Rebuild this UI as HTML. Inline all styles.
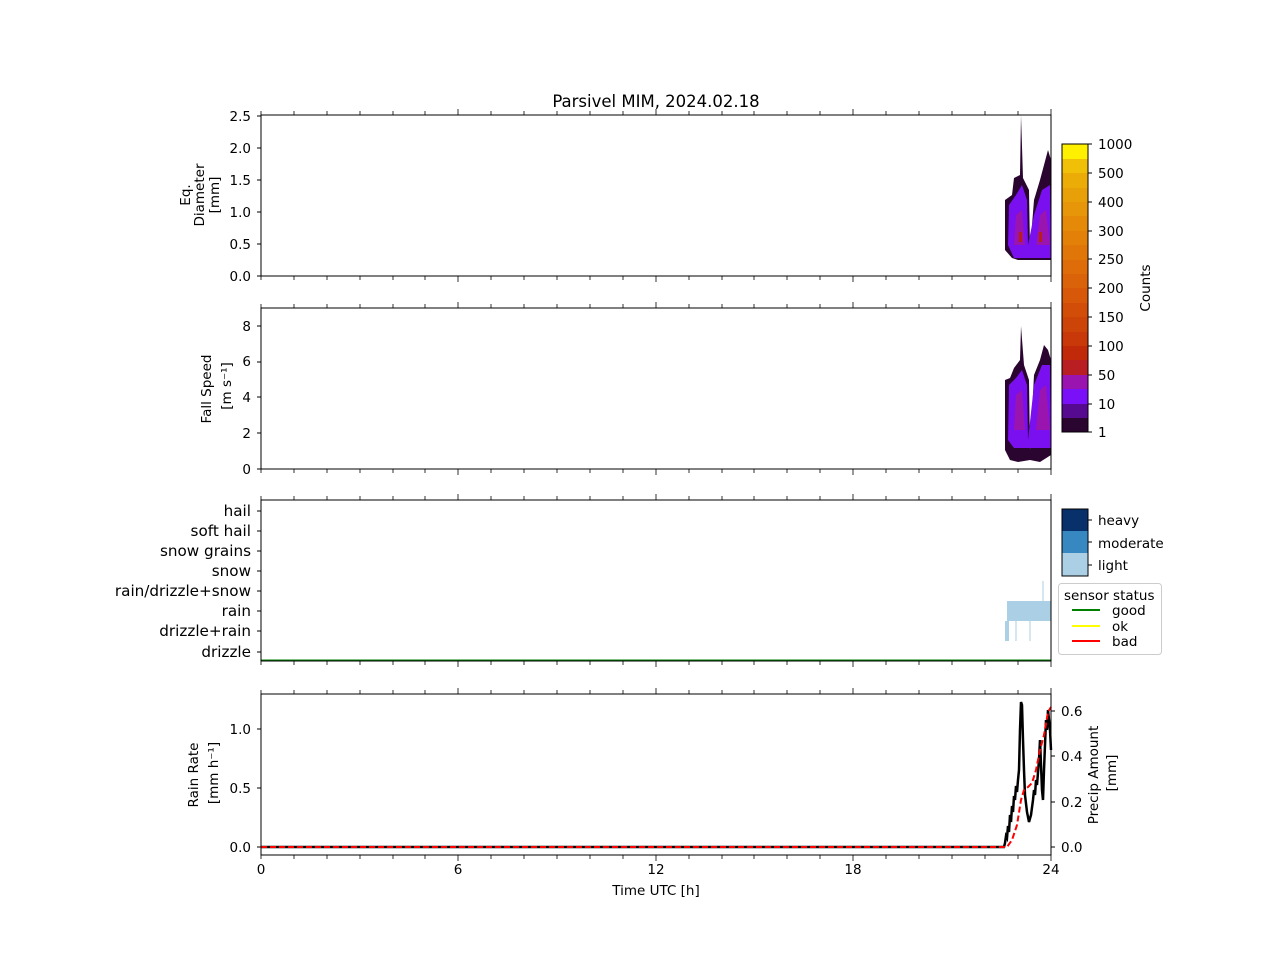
<!DOCTYPE html>
<html><head><style>body{margin:0;background:#fff}svg{display:block;font-family:"DejaVu Sans","Liberation Sans",sans-serif}</style></head><body>
<svg width="1280" height="960" viewBox="0 0 1280 960" xmlns="http://www.w3.org/2000/svg">
<defs>
<g id="xt">
<path d="M261,0v4M294,0v4M327,0v4M360,0v4M393,0v4M425,0v4M458,0v6M491,0v4M524,0v4M557,0v4M590,0v4M623,0v4M656,0v6M689,0v4M722,0v4M754,0v4M787,0v4M820,0v4M853,0v6M886,0v4M919,0v4M952,0v4M985,0v4M1018,0v4M1051,0v6" stroke="#000" stroke-width="0.8"/>
</g>
</defs>
<text x="656" y="107" font-size="16.5" text-anchor="middle">Parsivel MIM, 2024.02.18</text>
<g font-size="13.5">
<!-- panel 1 -->
<path d="M1005,250 L1005,200 L1012,195 L1014,178 L1020,175 L1021,115 L1023,178 L1029,190 L1030,250 L1034,200 L1040,180 L1044,165 L1048,150 L1051,160 L1051,260 L1040,260 L1030,260 L1018,260 L1012,258 Z" fill="#2a0530"/>
<path d="M1008,245 L1009,205 L1016,195 L1022,185 L1027,200 L1028,245 L1034,215 L1042,190 L1050,185 L1051,258 L1014,258 Z" fill="#7a10f0"/>
<path d="M1014,245 L1016,215 L1022,210 L1025,245 Z M1036,245 L1040,215 L1046,210 L1050,245 Z" fill="#9a14b0"/>
<rect x="1019" y="232" width="3" height="10" fill="#b81e18"/><rect x="1039" y="232" width="3" height="10" fill="#b81e18"/>
<rect x="261" y="115" width="790" height="161" fill="none" stroke="#000"/>
<use href="#xt" transform="translate(0,276)"/><use href="#xt" transform="translate(0,115) scale(1,-1)"/>
<g text-anchor="end"><text x="251" y="121">2.5</text><text x="251" y="153">2.0</text><text x="251" y="185">1.5</text><text x="251" y="217">1.0</text><text x="251" y="249">0.5</text><text x="251" y="281">0.0</text></g>
<path d="M257,116h4M257,148h4M257,180h4M257,212h4M257,244h4M257,276h4" stroke="#000"/>
<text transform="translate(190,195) rotate(-90)" text-anchor="middle">Eq.</text>
<text transform="translate(204,195) rotate(-90)" text-anchor="middle">Diameter</text>
<text transform="translate(219,195) rotate(-90)" text-anchor="middle">[mm]</text>
<!-- panel 2 -->
<path d="M1005,450 L1005,380 L1010,378 L1014,368 L1020,360 L1021,326 L1024,365 L1029,380 L1030,450 L1034,375 L1040,360 L1044,345 L1048,350 L1051,360 L1051,455 L1040,462 L1030,460 L1018,462 L1010,460 Z" fill="#2a0530"/>
<path d="M1008,440 L1009,385 L1016,378 L1022,370 L1027,385 L1028,440 L1034,385 L1042,365 L1050,365 L1051,448 L1014,448 Z" fill="#7a10f0"/>
<path d="M1014,430 L1016,395 L1022,390 L1025,430 Z M1036,430 L1040,390 L1046,385 L1050,430 Z" fill="#9a14b0"/>
<rect x="261" y="308" width="790" height="161" fill="none" stroke="#000"/>
<use href="#xt" transform="translate(0,469)"/><use href="#xt" transform="translate(0,308) scale(1,-1)"/>
<g text-anchor="end"><text x="251" y="331">8</text><text x="251" y="366">6</text><text x="251" y="402">4</text><text x="251" y="438">2</text><text x="251" y="474">0</text></g>
<path d="M257,326h4M257,362h4M257,397h4M257,433h4M257,469h4" stroke="#000"/>
<text transform="translate(211,389) rotate(-90)" text-anchor="middle">Fall Speed</text>
<text transform="translate(231,386) rotate(-90)" text-anchor="middle">[m s⁻¹]</text>
<!-- colorbar (stepped) -->
<g>
<rect x="1062" y="418" width="26" height="14" fill="#2a0530"/>
<rect x="1062" y="404" width="26" height="14" fill="#550a90"/>
<rect x="1062" y="389" width="26" height="15" fill="#7a10f8"/>
<rect x="1062" y="375" width="26" height="14" fill="#9a14b0"/>
<rect x="1062" y="360" width="26" height="15" fill="#b81e22"/>
<rect x="1062" y="346" width="26" height="14" fill="#c02a08"/>
<rect x="1062" y="332" width="26" height="14" fill="#c83808"/>
<rect x="1062" y="317" width="26" height="15" fill="#cc4408"/>
<rect x="1062" y="303" width="26" height="14" fill="#d24e08"/>
<rect x="1062" y="288" width="26" height="15" fill="#d65808"/>
<rect x="1062" y="274" width="26" height="14" fill="#da6208"/>
<rect x="1062" y="260" width="26" height="14" fill="#de6c08"/>
<rect x="1062" y="245" width="26" height="15" fill="#e07608"/>
<rect x="1062" y="231" width="26" height="14" fill="#e28008"/>
<rect x="1062" y="216" width="26" height="15" fill="#e48a08"/>
<rect x="1062" y="202" width="26" height="14" fill="#e69608"/>
<rect x="1062" y="188" width="26" height="14" fill="#e8a008"/>
<rect x="1062" y="173" width="26" height="15" fill="#ecac08"/>
<rect x="1062" y="159" width="26" height="14" fill="#f0c008"/>
<rect x="1062" y="144" width="26" height="15" fill="#fff000"/>
</g>
<rect x="1062" y="144" width="26" height="288" fill="none" stroke="#000"/>
<g><text x="1098" y="149">1000</text><text x="1098" y="178">500</text><text x="1098" y="207">400</text><text x="1098" y="236">300</text><text x="1098" y="264">250</text><text x="1098" y="293">200</text><text x="1098" y="322">150</text><text x="1098" y="351">100</text><text x="1098" y="380">50</text><text x="1098" y="409">10</text><text x="1098" y="437">1</text></g>
<path d="M1088,144h4M1088,173h4M1088,202h4M1088,231h4M1088,259h4M1088,288h4M1088,317h4M1088,346h4M1088,375h4M1088,404h4M1088,432h4" stroke="#000"/>
<text transform="translate(1150,288) rotate(-90)" text-anchor="middle">Counts</text>
<!-- panel 3 -->
<rect x="1007" y="601" width="44" height="20" fill="#abd0e6"/>
<rect x="1005" y="621" width="4" height="20" fill="#abd0e6"/>
<path d="M1016,621v20M1030,621v20M1043,581v20" stroke="#abd0e6"/>
<path d="M261,660.5H1051" stroke="#008000" stroke-width="2"/>
<rect x="261" y="500" width="790" height="161" fill="none" stroke="#000"/>
<use href="#xt" transform="translate(0,661)"/><use href="#xt" transform="translate(0,500) scale(1,-1)"/>
<g text-anchor="end" font-size="15.2"><text x="251" y="516">hail</text><text x="251" y="536">soft hail</text><text x="251" y="556">snow grains</text><text x="251" y="576">snow</text><text x="251" y="596">rain/drizzle+snow</text><text x="251" y="616">rain</text><text x="251" y="636">drizzle+rain</text><text x="251" y="657">drizzle</text></g>
<path d="M257,511h4M257,531h4M257,551h4M257,571h4M257,591h4M257,611h4M257,631h4M257,652h4" stroke="#000"/>
<rect x="1062" y="509" width="26" height="22" fill="#08306b"/><rect x="1062" y="531" width="26" height="22" fill="#3787c0"/><rect x="1062" y="553" width="26" height="23" fill="#abd0e6"/>
<rect x="1062" y="509" width="26" height="67" fill="none" stroke="#000"/>
<path d="M1088,520h4M1088,542h4M1088,565h4" stroke="#000"/>
<g font-size="13.5"><text x="1098" y="525">heavy</text><text x="1098" y="548">moderate</text><text x="1098" y="570">light</text></g>
<rect x="1058.5" y="583.5" width="103" height="71" rx="3" fill="#fff" stroke="#ccc"/>
<g font-size="13.5"><text x="1064" y="600">sensor status</text><text x="1112" y="615">good</text><text x="1112" y="631">ok</text><text x="1112" y="646">bad</text></g>
<path d="M1072,610h28" stroke="#008000" stroke-width="2"/><path d="M1072,626h28" stroke="#ffff00" stroke-width="2"/><path d="M1072,641h28" stroke="#ff0000" stroke-width="2"/>
<!-- panel 4 -->
<path d="M261,847 H1004 L1005,843 L1006,836 L1007,838 L1008,826 L1009,832 L1010,815 L1011,822 L1012,806 L1013,812 L1014,796 L1015,800 L1016,786 L1017,792 L1018,780 L1019,770 L1020,730 L1021,702 L1022,705 L1023,740 L1024,770 L1025,795 L1027,812 L1029,822 L1031,815 L1033,800 L1034,790 L1035,795 L1036,780 L1037,785 L1039,760 L1040,740 L1041,765 L1042,790 L1043,800 L1044,770 L1046,720 L1047,730 L1048,710 L1050,730 L1051,750" fill="none" stroke="#000" stroke-width="2.5"/>
<path d="M261,847 H1007 L1012,840 L1017,825 L1021,800 L1024,790 L1028,787 L1032,783 L1036,770 L1040,750 L1044,735 L1048,712 L1051,707" fill="none" stroke="#f00" stroke-width="2" stroke-dasharray="6,3"/>
<rect x="261" y="694" width="790" height="161" fill="none" stroke="#000"/>
<use href="#xt" transform="translate(0,855)"/><use href="#xt" transform="translate(0,694) scale(1,-1)"/>
<g text-anchor="end"><text x="251" y="734">1.0</text><text x="251" y="793">0.5</text><text x="251" y="852">0.0</text></g>
<path d="M257,729h4M257,788h4M257,847h4" stroke="#000"/>
<path d="M1051,711h4M1051,756h4M1051,802h4M1051,847h4" stroke="#000"/>
<g><text x="1061" y="716">0.6</text><text x="1061" y="761">0.4</text><text x="1061" y="807">0.2</text><text x="1061" y="852">0.0</text></g>
<text transform="translate(198,775) rotate(-90)" text-anchor="middle">Rain Rate</text>
<text transform="translate(218,773) rotate(-90)" text-anchor="middle">[mm h⁻¹]</text>
<text transform="translate(1098,775) rotate(-90)" text-anchor="middle">Precip Amount</text>
<text transform="translate(1116,773) rotate(-90)" text-anchor="middle">[mm]</text>
<g text-anchor="middle"><text x="261" y="874">0</text><text x="458" y="874">6</text><text x="656" y="874">12</text><text x="853" y="874">18</text><text x="1051" y="874">24</text></g>
<text x="656" y="895" text-anchor="middle">Time UTC [h]</text>
</g>
</svg>
</body></html>
